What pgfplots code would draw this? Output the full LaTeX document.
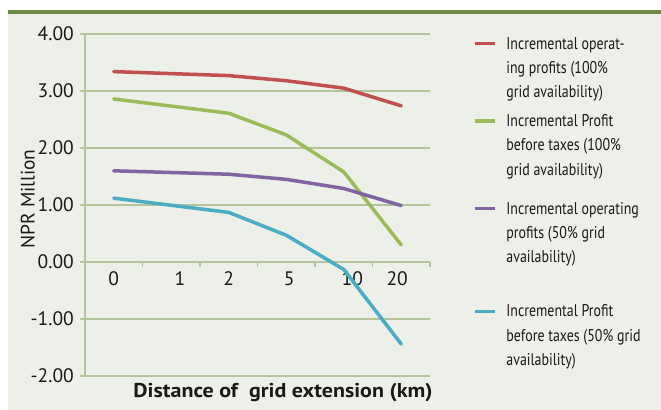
\documentclass[border=0pt]{standalone}
\usepackage{pgfplots}
\pgfplotsset{compat=1.18}
\usepackage{fontspec}
\setmainfont{PT Sans}
\newfontfamily\condfont[FakeStretch=0.82]{PT Sans}
\newfontfamily\widefont[FakeStretch=1.1]{PT Sans}
\definecolor{bgc}{HTML}{EDEFE9}
\definecolor{bandc}{HTML}{6F8B48}
\definecolor{gridc}{HTML}{B4C49C}
\definecolor{sred}{HTML}{C0504D}
\definecolor{sgreen}{HTML}{9BBB59}
\definecolor{spurple}{HTML}{8064A2}
\definecolor{sblue}{HTML}{4BACC6}
\newcommand\legtext[4]{\vtop{\baselineskip=24.3bp\lineskiplimit=-100bp\lineskip=0bp
  \hbox{\strut#1}\hbox{\strut#2}\hbox{\strut#3}\kern#4}}
\begin{document}
\begin{tikzpicture}
\useasboundingbox (0bp,0bp) rectangle (661bp,410bp);
\fill[white] (0bp,0bp) rectangle (661bp,410bp);
\fill[bgc] (8bp,0bp) rectangle (661bp,396bp);
\fill[bandc] (8bp,396bp) rectangle (661bp,400bp);
\begin{axis}[
  at={(85bp,34bp)}, anchor=south west,
  scale only axis, width=345bp, height=342bp,
  xmin=-0.5, xmax=5.5, ymin=-2, ymax=4,
  axis y line=left, axis x line=middle,
  axis line style={-, draw=gridc, line width=1.4bp},
  hide obscured x ticks=false, hide obscured y ticks=false,
  ytick={-2,-1,0,1,2,3,4},
  yticklabels={-2.00,-1.00,0.00,1.00,2.00,3.00,4.00},
  xtick={-0.5,0.5,1.5,2.5,3.5,4.5,5.5},
  xticklabels={},
  extra x ticks={0,1.15,2,3.05,4.15,4.93},
  extra x tick labels={0,1,2,5,10,20},
  extra x tick style={major tick length=0pt, xmajorgrids=false,
     tick label style={anchor=center, yshift=-17bp}},
  tick align=outside,
  major tick length=5bp,
  tick style={draw=gridc, line width=1.2bp},
  ymajorgrids=true,
  grid style={draw=gridc, line width=1.2bp},
  tick label style={font=\fontsize{19.5bp}{22bp}\selectfont, text=black!90},
  yticklabel style={anchor=east, inner sep=0pt, xshift=-6bp},
  ylabel={NPR Million},
  ylabel style={at={(axis description cs:-0.166,0.5175)}, anchor=center,
     font=\fontsize{19.5bp}{22bp}\selectfont, text=black!90},
  xlabel={Distance of\ \ grid extension (km)},
  xlabel style={at={(axis description cs:1.0174,-0.0497)}, anchor=east,
     font=\widefont\fontsize{20bp}{22bp}\selectfont\bfseries, text=black!90},
  legend style={at={(axis description cs:1.1246,1.0058)}, anchor=north west,
     draw=none, fill=none, inner sep=0pt,
     nodes={inner sep=0pt, text depth=, text height=},
     cells={anchor=base west}, row sep=4.5bp, column sep=9.7bp,
     font=\condfont\fontsize{17bp}{24.3bp}\selectfont, text=black!90},
  legend image code/.code={\path (0bp,0bp); \draw[#1, line width=3.5bp, line cap=butt] (0bp,5.5bp) -- (20bp,5.5bp);},
  every axis plot/.append style={line width=3.5bp, line cap=round, line join=round},
]
\addplot[sred] coordinates {(0,3.34) (2,3.27) (3,3.18) (4,3.05) (5,2.74)};
\addlegendentry{\legtext{Incremental operat-}{ing profits (100\%}{grid availability)}{0bp}}
\addplot[sgreen] coordinates {(0,2.86) (2,2.61) (3,2.23) (4,1.58) (5,0.30)};
\addlegendentry{\legtext{Incremental Profit}{before taxes (100\%}{grid availability)}{10.2bp}}
\addplot[spurple] coordinates {(0,1.60) (2,1.54) (3,1.45) (4,1.29) (5,0.99)};
\addlegendentry{\legtext{Incremental operating}{profits (50\% grid}{availability)}{25.3bp}}
\addplot[sblue] coordinates {(0,1.12) (2,0.87) (3,0.47) (4,-0.13) (5,-1.44)};
\addlegendentry{\legtext{Incremental Profit}{before taxes (50\% grid}{availability)}{0bp}}
\end{axis}
\end{tikzpicture}
\end{document}
